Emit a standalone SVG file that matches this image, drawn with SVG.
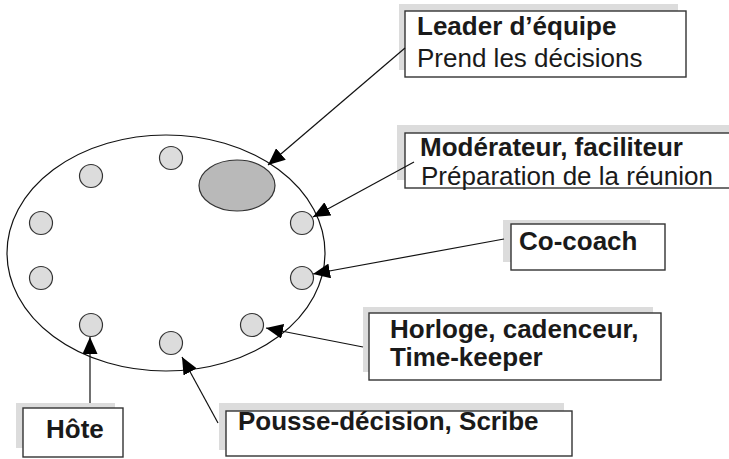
<svg xmlns="http://www.w3.org/2000/svg" width="729" height="459" viewBox="0 0 729 459">
<style>
  .bg{fill:#ffffff}
  .big{fill:none;stroke:#111;stroke-width:1.2}
  .dot{fill:#dcdcdc;stroke:#333;stroke-width:1.2}
  .lead{fill:#b9b9b9;stroke:#333;stroke-width:1.2}
  .sh{fill:#dcdcdc}
  .box{fill:#ffffff;stroke:#333;stroke-width:1.4}
  .t{font-family:"Liberation Sans",Arial,sans-serif;font-size:26px;fill:#1a1a1a}
  .b{font-weight:bold}
  .con{stroke:#111;stroke-width:1.2;fill:none;marker-end:url(#ah)}
</style>
<defs>
  <marker id="ah" markerUnits="userSpaceOnUse" markerWidth="18" markerHeight="15" viewBox="0 0 18 15" refX="17" refY="7.5" orient="auto">
    <path d="M0,0 L17,7.5 L0,15 z" fill="#000"/>
  </marker>
</defs>
<rect class="bg" x="0" y="0" width="729" height="459"/>

<g id="team">
  <ellipse class="big" cx="166" cy="253" rx="159" ry="118"/>
  <ellipse class="lead" cx="237" cy="185.5" rx="38" ry="25.5"/>
  <circle class="dot" cx="171" cy="158" r="11.5"/>
  <circle class="dot" cx="91" cy="176" r="11.5"/>
  <circle class="dot" cx="41" cy="223" r="11.5"/>
  <circle class="dot" cx="41" cy="278" r="11.5"/>
  <circle class="dot" cx="91" cy="325" r="11.5"/>
  <circle class="dot" cx="171" cy="343" r="11.5"/>
  <circle class="dot" cx="252" cy="325" r="11.5"/>
  <circle class="dot" cx="302" cy="278" r="11.5"/>
  <circle class="dot" cx="302" cy="223" r="11.5"/>
</g>

<g id="leader">
  <rect class="sh" x="399" y="4" width="279" height="66"/>
  <rect class="box" x="405" y="11" width="281" height="66"/>
  <text class="t b" x="417" y="35">Leader d’équipe</text>
  <text class="t" x="417" y="67">Prend les décisions</text>
</g>

<g id="moderateur">
  <rect class="sh" x="397" y="125" width="340" height="55"/>
  <rect class="box" x="405" y="133" width="330" height="55"/>
  <text class="t b" x="420" y="156">Modérateur, faciliteur</text>
  <text class="t" x="421" y="185">Préparation de la réunion</text>
</g>

<g id="cocoach">
  <rect class="sh" x="503" y="220" width="147" height="42"/>
  <rect class="box" x="511" y="224" width="154" height="46"/>
  <text class="t b" x="519" y="250">Co-coach</text>
</g>

<g id="horloge">
  <rect class="sh" x="363" y="307" width="290" height="65"/>
  <rect class="box" x="369" y="313" width="292" height="67"/>
  <text class="t b" x="390" y="338">Horloge, cadenceur,</text>
  <text class="t b" x="390" y="366">Time-keeper</text>
</g>

<g id="hote">
  <rect class="sh" x="16" y="403" width="99" height="45"/>
  <rect class="box" x="23" y="408" width="100" height="49"/>
  <text class="t b" x="46" y="438">Hôte</text>
</g>

<g id="pousse">
  <rect class="sh" x="219" y="403" width="345" height="47"/>
  <rect class="box" x="226" y="411" width="346" height="45"/>
  <text class="t b" x="238" y="430">Pousse-décision, Scribe</text>
</g>

<g id="connectors">
  <line class="con" x1="405" y1="48" x2="268" y2="165"/>
  <line class="con" x1="414" y1="162" x2="313" y2="217"/>
  <line class="con" x1="504" y1="239" x2="313" y2="274"/>
  <line class="con" x1="363" y1="347" x2="266" y2="328"/>
  <line class="con" x1="90" y1="403" x2="90" y2="337"/>
  <line class="con" x1="218" y1="423" x2="182" y2="357"/>
</g>
</svg>
